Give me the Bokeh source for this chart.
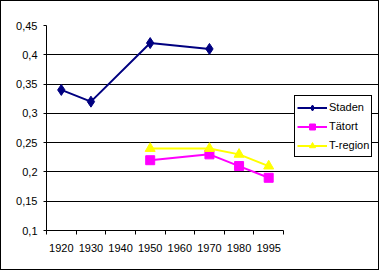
from bokeh.plotting import figure
from bokeh.models import (Range1d, FixedTicker, CustomJSTickFormatter, Legend, LegendItem)
from bokeh.embed import file_html
from bokeh.resources import INLINE

categories = ["1920", "1930", "1940", "1950", "1960", "1970", "1980", "1995"]
y_ticks = [0.1, 0.15, 0.2, 0.25, 0.3, 0.35, 0.4, 0.45]

staden_years = ["1920", "1930", "1950", "1970"]
staden = [0.34, 0.32, 0.42, 0.41]

tatort_years = ["1950", "1970", "1980", "1995"]
tatort = [0.22, 0.23, 0.21, 0.19]

tregion_years = ["1950", "1970", "1980", "1995"]
tregion = [0.24, 0.24, 0.23, 0.21]


def xpos(years):
    return [categories.index(y) + 0.5 for y in years]


FONT = "Liberation Sans"
W, H = 379, 270
LEFT, TOP, BOTTOM = 45, 24, 41
PLOT_W = 237            # pixel width of the category area
FRAME_W = W - LEFT      # frame extends to the right edge (legend lives there)
n = len(categories)

p = figure(width=W, height=H, output_backend="svg", toolbar_location=None,
           x_range=Range1d(0, n * FRAME_W / PLOT_W),
           y_range=Range1d(min(y_ticks), max(y_ticks)),
           min_border_left=LEFT, min_border_right=0, min_border_top=TOP,
           min_border_bottom=BOTTOM)
p.styles = {"border": "1px solid black"}
p.outline_line_color = None
p.background_fill_color = "white"
p.border_fill_color = "white"

# axes
p.xaxis.ticker = FixedTicker(ticks=[i + 0.5 for i in range(n)],
                             minor_ticks=list(range(n + 1)))
p.xaxis.formatter = CustomJSTickFormatter(args=dict(labels=categories),
                                          code="return labels[Math.floor(tick)];")
p.xaxis.bounds = (0, n)
p.xaxis.major_tick_out = 0
p.xaxis.major_tick_in = 0
p.xaxis.minor_tick_out = 4
p.xaxis.minor_tick_in = 0
p.xaxis.minor_tick_line_color = "black"
p.xaxis.major_label_standoff = 9

p.yaxis.ticker = FixedTicker(ticks=y_ticks)
p.yaxis.formatter = CustomJSTickFormatter(
    code="return tick.toFixed(2).replace(/0$/, '').replace('.', ',');")
p.yaxis.major_tick_out = 3
p.yaxis.major_tick_in = 0
p.yaxis.minor_tick_line_color = None
p.yaxis.major_label_standoff = 6

for ax in (p.xaxis, p.yaxis):
    ax.axis_line_color = "black"
    ax.major_tick_line_color = "black"
    ax.major_label_text_font = FONT
    ax.major_label_text_font_size = "11px"
    ax.major_label_text_color = "black"

p.xgrid.grid_line_color = None
p.ygrid.grid_line_color = "black"
p.ygrid.grid_line_alpha = 1
p.ygrid.ticker = FixedTicker(ticks=y_ticks)
p.ygrid.bounds = (0, n)

# series
series = [
    ("Staden", staden_years, staden, "#000080", "diamond", 11),
    ("Tätort", tatort_years, tatort, "#FF00FF", "square", 9),
    ("T-region", tregion_years, tregion, "#FFFF00", "triangle", 10),
]
items = []
for label, yrs, vals, color, marker, size in series:
    ln = p.line(xpos(yrs), vals, line_color=color, line_width=2)
    mk = p.scatter(xpos(yrs), vals, marker=marker, size=size,
                   fill_color=color, line_color=color)
    items.append(LegendItem(label=label, renderers=[ln, mk]))

legend = Legend(items=items, location=(248, 73))
legend.label_text_font = FONT
legend.label_text_font_size = "11px"
legend.label_text_color = "black"
legend.glyph_width = 30
legend.glyph_height = 15
legend.label_height = 18
legend.label_standoff = 2
legend.spacing = 1
legend.padding = 2
legend.margin = 0
legend.border_line_color = "black"
legend.border_line_alpha = 1
legend.border_line_width = 1
legend.background_fill_color = "white"
legend.background_fill_alpha = 1
p.add_layout(legend, "center")

open("out.html", "w").write(file_html(p, INLINE))
